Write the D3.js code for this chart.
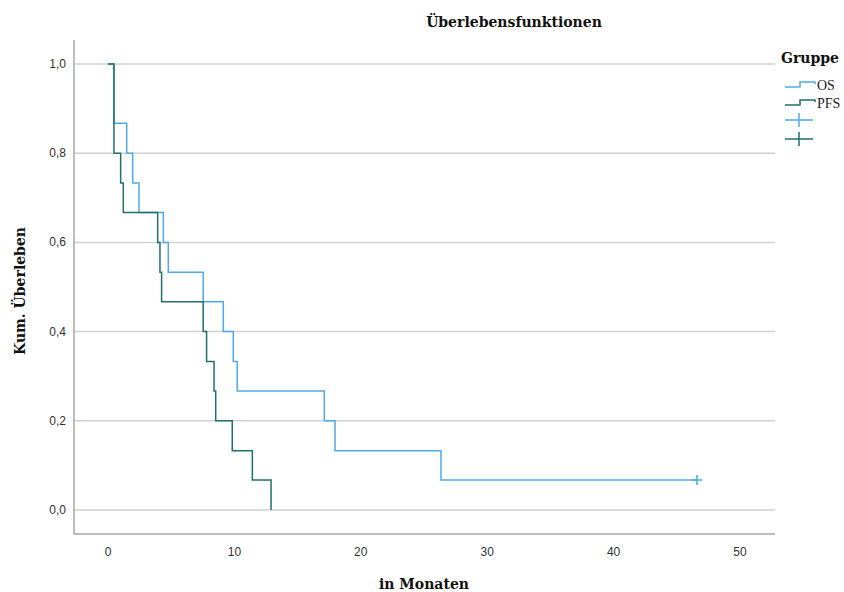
<html>
<head>
<meta charset="utf-8">
<style type="text/css">
	body { margin: 0; background: white; }
	.grid line { stroke: #d2d2d2; stroke-width: 1.5; }
	.frame { stroke: #a8a8a8; stroke-width: 1.5; fill: none; }
	.tick-label { font-family: "Liberation Sans", Arial, sans-serif; font-size: 12px; fill: #333; }
	.title { font-family: "DejaVu Serif", serif; font-weight: bold; font-size: 14px; fill: #111; }
	.line { fill: none; stroke-width: 1.5; }
	.line.os { stroke: #4eaaea; }
	.line.pfs { stroke: #22706a; }
	.legend-label { font-family: "Liberation Serif", serif; font-size: 14px; fill: #222; }
</style>
<script src="https://d3js.org/d3.v7.min.js"></script>
</head>
<body>
<script type="text/javascript">

	// Kaplan-Meier steps: time (months) and survival after that time
	var os_times = [0, 0.47, 1.48, 1.95, 2.45, 4.38, 4.77, 7.53, 9.12, 9.91, 10.22, 17.11, 17.96, 26.34, 46.6];
	var os_surv  = [1.0, 0.867, 0.8, 0.733, 0.667, 0.6, 0.533, 0.467, 0.4, 0.333, 0.267, 0.2, 0.133, 0.067, 0.067];
	var os_censored = [46.6];

	var pfs_times = [0, 0.47, 1.0, 1.21, 3.93, 4.11, 4.24, 7.53, 7.8, 8.39, 8.52, 9.83, 11.42, 12.9];
	var pfs_surv  = [1.0, 0.8, 0.733, 0.667, 0.6, 0.533, 0.467, 0.4, 0.333, 0.267, 0.2, 0.133, 0.067, 0.0];

	var x_ticks = [0, 10, 20, 30, 40, 50];
	var y_ticks = [0, 0.2, 0.4, 0.6, 0.8, 1.0];
	var groups = ["OS", "PFS"];

	var width = 844, height = 592;
	var left = 74, right = 775, bottom = 534;

	var x_scale = d3.scaleLinear().domain([0, 50]).range([108, 740]);
	var y_scale = d3.scaleLinear().domain([0, 1]).range([510, 64]);
	var fmt = function(v) { return d3.format(".1f")(v).replace(".", ","); };

	var svg = d3.select("body")
		.append("svg")
			.attr("width", width)
			.attr("height", height);

	// gridlines
	svg.append("g")
		.attr("class", "grid")
		.selectAll("line")
		.data(y_ticks)
		.enter()
		.append("line")
			.attr("x1", left)
			.attr("x2", right)
			.attr("y1", function(d) { return y_scale(d); })
			.attr("y2", function(d) { return y_scale(d); });

	// axis frame
	svg.append("path")
		.attr("class", "frame")
		.attr("d", "M" + left + "," + 40 + "V" + bottom + "H" + right);

	// tick labels
	svg.selectAll("text.ylab")
		.data(y_ticks)
		.enter()
		.append("text")
			.attr("class", "tick-label")
			.attr("x", 66)
			.attr("y", function(d) { return y_scale(d) + 4; })
			.attr("text-anchor", "end")
			.text(fmt);

	svg.selectAll("text.xlab")
		.data(x_ticks)
		.enter()
		.append("text")
			.attr("class", "tick-label")
			.attr("x", function(d) { return x_scale(d); })
			.attr("y", 556)
			.attr("text-anchor", "middle")
			.text(function(d) { return d; });

	var line = d3.line()
		.x(function(d) { return x_scale(d[0]); })
		.y(function(d) { return y_scale(d[1]); })
		.curve(d3.curveStepAfter);

	svg.append("path")
		.attr("class", "line os")
		.attr("d", line(d3.zip(os_times, os_surv)));

	svg.append("path")
		.attr("class", "line pfs")
		.attr("d", line(d3.zip(pfs_times, pfs_surv)));

	// censor marks
	svg.selectAll("path.censor")
		.data(os_censored)
		.enter()
		.append("path")
			.attr("class", "line os")
			.attr("d", function(d) {
				var cx = x_scale(d), cy = y_scale(os_surv[os_surv.length - 1]);
				return "M" + (cx - 5) + "," + cy + "H" + (cx + 5) + "M" + cx + "," + (cy - 5) + "V" + (cy + 5);
			});

	// titles
	svg.append("text").attr("class", "title")
		.attr("x", 514).attr("y", 27).attr("text-anchor", "middle")
		.text("Überlebensfunktionen");

	svg.append("text").attr("class", "title")
		.attr("x", 424).attr("y", 589).attr("text-anchor", "middle")
		.text("in Monaten");

	svg.append("text").attr("class", "title")
		.attr("transform", "translate(25,291) rotate(-90)")
		.attr("text-anchor", "middle")
		.text("Kum. Überleben");

	// legend
	svg.append("text").attr("class", "title")
		.attr("x", 781).attr("y", 63)
		.text("Gruppe");

	var legend = svg.selectAll("g.legend")
		.data(groups)
		.enter()
		.append("g")
			.attr("transform", function(d, i) { return "translate(785," + (85 + i * 18) + ")"; });

	legend.append("path")
		.attr("class", function(d) { return "line " + d.toLowerCase(); })
		.attr("d", "M0,2H15V-3H30V-1");

	legend.append("text")
		.attr("class", "legend-label")
		.attr("x", 32)
		.attr("y", 5)
		.text(function(d) { return d; });

	var censor_legend = svg.selectAll("g.clegend")
		.data(groups)
		.enter()
		.append("g")
			.attr("transform", function(d, i) { return "translate(799," + (120 + i * 19) + ")"; });

	censor_legend.append("path")
		.attr("class", function(d) { return "line " + d.toLowerCase(); })
		.attr("d", "M-14,0H14M0,-7V7");

</script>
</body>
</html>
